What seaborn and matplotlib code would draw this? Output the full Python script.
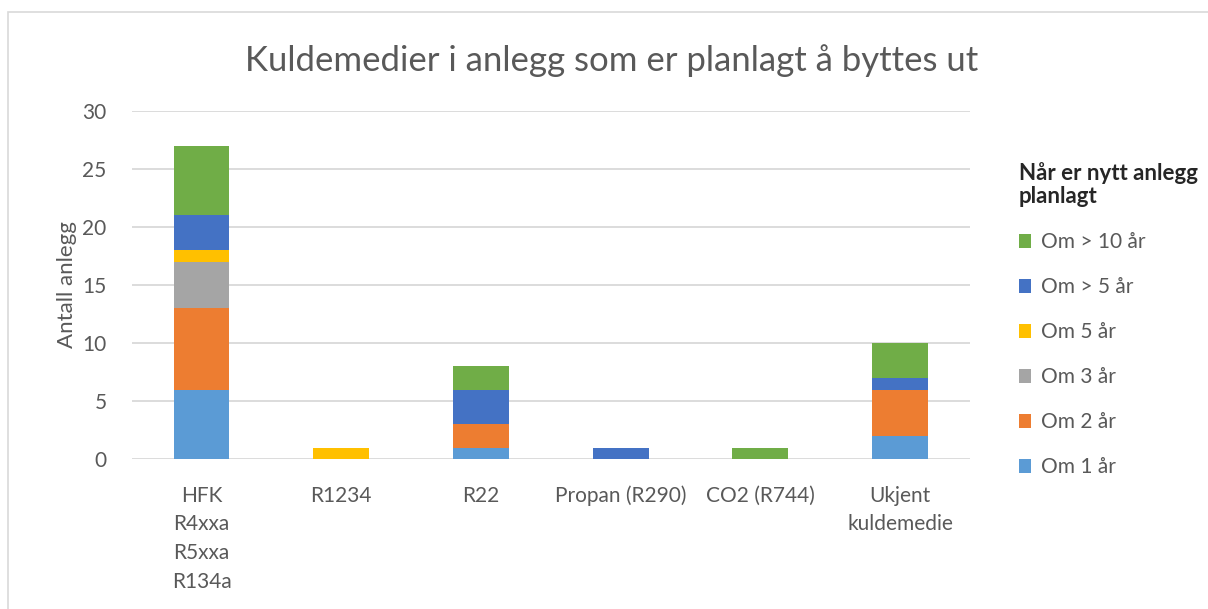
import matplotlib
matplotlib.use("Agg")
import matplotlib.pyplot as plt
from matplotlib.patches import Patch, Rectangle
import numpy as np
import seaborn as sns

# data
categories = ["HFK\nR4xxa\nR5xxa\nR134a", "R1234", "R22", "Propan (R290)",
              "CO2 (R744)", "Ukjent\nkuldemedie"]
om_1 = [6, 0, 1, 0, 0, 2]
om_2 = [7, 0, 2, 0, 0, 4]
om_3 = [4, 0, 0, 0, 0, 0]
om_5 = [1, 1, 0, 0, 0, 0]
om_over_5 = [3, 0, 3, 1, 0, 1]
om_over_10 = [6, 0, 2, 0, 1, 3]

series_names = ["Om 1 år", "Om 2 år", "Om 3 år", "Om 5 år", "Om > 5 år", "Om > 10 år"]
series_values = [om_1, om_2, om_3, om_5, om_over_5, om_over_10]
colors = ["#5b9bd5", "#ed7d31", "#a5a5a5", "#ffc000", "#4472c4", "#70ad47"]

sns.set_theme(style="white")
plt.rcParams["font.family"] = ["Lato", "DejaVu Sans"]

fig = plt.figure(figsize=(12.08, 6.09), dpi=100)
ax = fig.add_axes([0.109, 0.246, 0.694, 0.572])

bottom = np.zeros(len(categories))
for name, vals, col in zip(series_names, series_values, colors):
    sns.barplot(x=categories, y=vals, bottom=bottom, color=col, width=0.4,
                saturation=1, linewidth=0, ax=ax, zorder=3)
    bottom += np.array(vals)

ax.set_ylim(0, 30)
ax.set_yticks(range(0, 31, 5))
ax.set_xlim(-0.5, len(categories) - 0.5)
ax.grid(axis="y", color="#d9d9d9", linewidth=1.3, zorder=0)
for s in ax.spines.values():
    s.set_visible(False)
ax.tick_params(axis="both", length=0, labelsize=15, labelcolor="#595959")
ax.tick_params(axis="x", pad=19)
ax.tick_params(axis="y", pad=18)
for lbl in ax.get_xticklabels():
    lbl.set_linespacing(1.55)
ax.set_ylabel("Antall anlegg", fontsize=16, color="#595959", labelpad=4)
ax.set_xlabel("")

fig.text(0.506, 0.90, "Kuldemedier i anlegg som er planlagt å byttes ut",
         ha="center", va="center", fontsize=25, color="#595959")

handles = [Patch(facecolor=c, edgecolor="none") for c in colors][::-1]
leg = fig.legend(handles, series_names[::-1], loc="upper left",
                 bbox_to_anchor=(0.828, 0.765), frameon=False,
                 title="Når er nytt anlegg\nplanlagt", fontsize=15,
                 title_fontproperties={"weight": "bold", "size": 16},
                 handlelength=0.6, handleheight=0.6, handletextpad=0.45,
                 labelspacing=1.2, alignment="left")
for t in leg.get_texts():
    t.set_color("#595959")
leg.get_title().set_linespacing(1.15)

fig.patches.append(Rectangle((8 / 1208, -0.05), 1.1, 1.05 - 12 / 609,
                             transform=fig.transFigure, fill=False,
                             edgecolor="#d9d9d9", linewidth=1.2))

fig.savefig("out.png", dpi=100)
